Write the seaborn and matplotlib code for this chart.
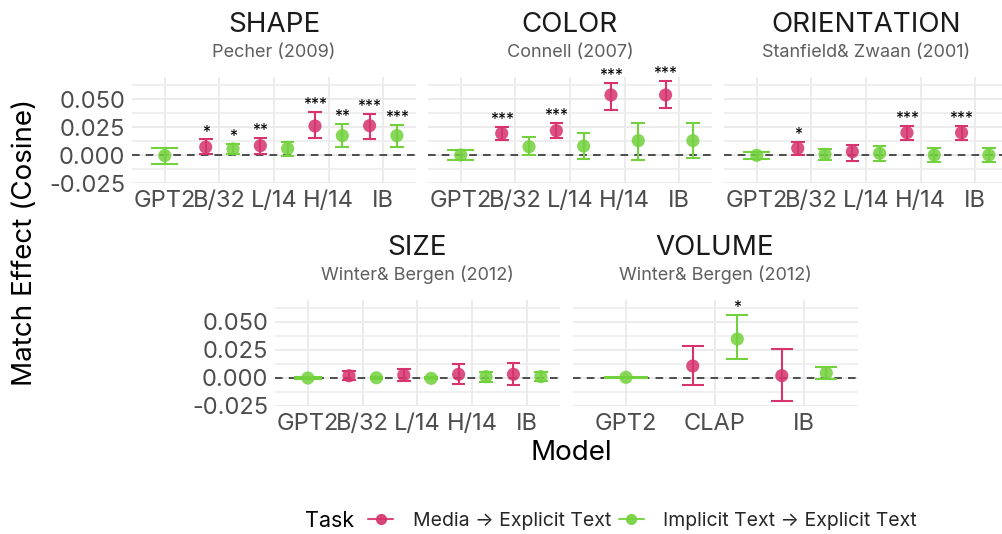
import numpy as np
import pandas as pd
import seaborn as sns
import matplotlib.pyplot as plt
from matplotlib.lines import Line2D

# ---- data ----
vision_models = ["GPT2", "B/32", "L/14", "H/14", "IB"]
audio_models = ["GPT2", "CLAP", "IB"]
tasks = ["Media \u2192 Explicit Text", "Implicit Text \u2192 Explicit Text"]

# SHAPE - Pecher (2009)
shape_media = [np.nan, 0.0071, 0.0083, 0.0259, 0.0262]
shape_media_lo = [np.nan, 0.0009, 0.0009, 0.0155, 0.0143]
shape_media_hi = [np.nan, 0.0140, 0.0150, 0.0387, 0.0366]
shape_media_sig = ["", "*", "**", "***", "***"]
shape_text = [-0.0005, 0.0054, 0.0057, 0.0173, 0.0173]
shape_text_lo = [-0.0077, 0.0012, -0.0006, 0.0074, 0.0074]
shape_text_hi = [0.0060, 0.0096, 0.0119, 0.0277, 0.0268]
shape_text_sig = ["", "*", "", "**", "***"]

# COLOR - Connell (2007)
color_media = [np.nan, 0.0193, 0.0217, 0.0536, 0.0536]
color_media_lo = [np.nan, 0.0134, 0.0155, 0.0400, 0.0423]
color_media_hi = [np.nan, 0.0253, 0.0290, 0.0646, 0.0665]
color_media_sig = ["", "***", "***", "***", "***"]
color_text = [0.0000, 0.0074, 0.0080, 0.0128, 0.0128]
color_text_lo = [-0.0045, 0.0000, -0.0036, -0.0045, -0.0024]
color_text_hi = [0.0047, 0.0164, 0.0200, 0.0290, 0.0290]
color_text_sig = ["", "", "", "", ""]

# ORIENTATION - Stanfield & Zwaan (2001)
orient_media = [np.nan, 0.0060, 0.0030, 0.0199, 0.0199]
orient_media_lo = [np.nan, 0.0000, -0.0051, 0.0134, 0.0134]
orient_media_hi = [np.nan, 0.0119, 0.0089, 0.0259, 0.0259]
orient_media_sig = ["", "*", "", "***", "***"]
orient_text = [-0.0003, 0.0006, 0.0015, 0.0000, 0.0000]
orient_text_lo = [-0.0036, -0.0048, -0.0051, -0.0060, -0.0060]
orient_text_hi = [0.0030, 0.0054, 0.0080, 0.0065, 0.0065]
orient_text_sig = ["", "", "", "", ""]

# SIZE - Winter & Bergen (2012)
size_media = [np.nan, 0.0020, 0.0027, 0.0033, 0.0033]
size_media_lo = [np.nan, -0.0020, -0.0030, -0.0057, -0.0066]
size_media_hi = [np.nan, 0.0062, 0.0077, 0.0122, 0.0131]
size_media_sig = ["", "", "", "", ""]
size_text = [0.0000, 0.0002, -0.0003, 0.0012, 0.0012]
size_text_lo = [-0.0005, -0.0008, -0.0013, -0.0033, -0.0027]
size_text_hi = [0.0005, 0.0012, 0.0007, 0.0056, 0.0050]
size_text_sig = ["", "", "", "", ""]

# VOLUME - Winter & Bergen (2012)
volume_media = [np.nan, 0.0107, 0.0021]
volume_media_lo = [np.nan, -0.0065, -0.0208]
volume_media_hi = [np.nan, 0.0286, 0.0256]
volume_media_sig = ["", "", ""]
volume_text = [0.0006, 0.0348, 0.0045]
volume_text_lo = [0.0000, 0.0167, -0.0012]
volume_text_hi = [0.0012, 0.0563, 0.0098]
volume_text_sig = ["", "*", ""]

pink = "#D6336F"
green = "#72D13C"
palette = {tasks[0]: pink, tasks[1]: green}


def build_frame(models, media, media_lo, media_hi, media_sig,
                text, text_lo, text_hi, text_sig):
    rows = []
    for t, (m, lo, hi, sig) in zip(tasks, [(media, media_lo, media_hi, media_sig),
                                          (text, text_lo, text_hi, text_sig)]):
        for i, model in enumerate(models):
            rows.append(dict(model=model, idx=i, task=t, mean=m[i], lo=lo[i], hi=hi[i], sig=sig[i]))
    df = pd.DataFrame(rows).dropna(subset=["mean"])
    # dodge: two tasks side by side, a lone task stays centred
    n = df.groupby("idx")["task"].transform("count")
    off = np.where(df["task"] == tasks[0], -0.25, 0.25)
    df["pos"] = df["idx"] + np.where(n > 1, off, 0.0)
    df["half"] = np.where(n > 1, 0.125, 0.25)
    return df


panels = [
    ("SHAPE", "Pecher (2009)", vision_models,
     build_frame(vision_models, shape_media, shape_media_lo, shape_media_hi, shape_media_sig,
                 shape_text, shape_text_lo, shape_text_hi, shape_text_sig)),
    ("COLOR", "Connell (2007)", vision_models,
     build_frame(vision_models, color_media, color_media_lo, color_media_hi, color_media_sig,
                 color_text, color_text_lo, color_text_hi, color_text_sig)),
    ("ORIENTATION", "Stanfield& Zwaan (2001)", vision_models,
     build_frame(vision_models, orient_media, orient_media_lo, orient_media_hi, orient_media_sig,
                 orient_text, orient_text_lo, orient_text_hi, orient_text_sig)),
    ("SIZE", "Winter& Bergen (2012)", vision_models,
     build_frame(vision_models, size_media, size_media_lo, size_media_hi, size_media_sig,
                 size_text, size_text_lo, size_text_hi, size_text_sig)),
    ("VOLUME", "Winter& Bergen (2012)", audio_models,
     build_frame(audio_models, volume_media, volume_media_lo, volume_media_hi, volume_media_sig,
                 volume_text, volume_text_lo, volume_text_hi, volume_text_sig)),
]

sns.set_theme(style="white")
plt.rcParams['font.family'] = ['Inter', 'DejaVu Sans']

W, H = 1003, 534
fig = plt.figure(figsize=(W / 100, H / 100), dpi=100)

# panel boxes in pixels: left, top, width, height
boxes = [(132, 76.6, 284, 106.4), (428, 76.6, 284, 106.4), (724, 76.6, 284, 106.4),
         (275, 299.6, 285, 106.4), (572.5, 299.6, 285, 106.4)]

grid_col = "#EBEBEB"
for (title, sub, models, df), (l, t, w, h), show_y in zip(panels, boxes, [True, False, False, True, False]):
    ax = fig.add_axes([l / W, 1 - (t + h) / H, w / W, h / H])
    ax.set_xlim(-0.6, len(models) - 0.4)
    ax.set_ylim(-0.025, 0.07)
    ax.set_yticks([-0.025, 0.0, 0.025, 0.05])
    ax.set_yticks([-0.0125, 0.0125, 0.0375, 0.0625], minor=True)
    ax.set_xticks(range(len(models)))
    ax.set_xticklabels(models)
    ax.grid(True, which="major", color=grid_col, lw=1.4)
    ax.grid(True, which="minor", axis="y", color=grid_col, lw=1.1)
    ax.set_axisbelow(True)
    for s in ax.spines.values():
        s.set_visible(False)
    ax.tick_params(axis="both", which="both", length=0, labelsize=17, labelcolor="#4D4D4D", pad=5)
    if show_y:
        ax.set_yticklabels(["-0.025", "0.000", "0.025", "0.050"])
    else:
        ax.set_yticklabels([])

    ax.axhline(0, color="#222222", ls=(0, (5, 4)), lw=1.1, zorder=1.5)

    for task in tasks:
        d = df[df["task"] == task]
        c = palette[task]
        ax.vlines(d["pos"], d["lo"], d["hi"], color=c, lw=1.5, zorder=2)
        ax.hlines(d["lo"], d["pos"] - d["half"], d["pos"] + d["half"], color=c, lw=1.5, zorder=2)
        ax.hlines(d["hi"], d["pos"] - d["half"], d["pos"] + d["half"], color=c, lw=1.5, zorder=2)
    sns.scatterplot(data=df, x="pos", y="mean", hue="task", palette=palette, s=90,
                    alpha=0.85, linewidth=0, legend=False, ax=ax, zorder=3)
    for _, r in df.iterrows():
        if r["sig"]:
            ax.text(r["pos"], r["hi"] + 0.0025, r["sig"], ha="center", va="baseline",
                    fontsize=11.5, color="black", zorder=4)
    ax.set_xlabel("")
    ax.set_ylabel("")

    cx = (l + w / 2) / W
    fig.text(cx, 1 - (t - 51.5) / H, title, ha="center", va="center", fontsize=20, color="#1A1A1A")
    fig.text(cx, 1 - (t - 24.5) / H, sub, ha="center", va="center", fontsize=13, color="#5E5E5E")

fig.text(25 / W, 1 - 242 / H, "Match Effect (Cosine)", rotation=90, ha="center", va="center",
         fontsize=20, color="black")
fig.text(571 / W, 1 - 453 / H, "Model", ha="center", va="center", fontsize=20, color="black")

fig.text(305 / W, 1 - 521 / H, "Task", ha="left", va="center", fontsize=15.5, color="black")
handles = [Line2D([], [], color=palette[t], marker="o", markersize=7, lw=1.5, alpha=0.9) for t in tasks]
fig.legend(handles, tasks, loc="center left", bbox_to_anchor=(368 / W, 1 - 521 / H), ncol=2,
           frameon=False, fontsize=14, handlelength=1.3, handletextpad=1.0, columnspacing=0.4,
           borderaxespad=0, borderpad=0)

fig.savefig("out.png", dpi=100)
